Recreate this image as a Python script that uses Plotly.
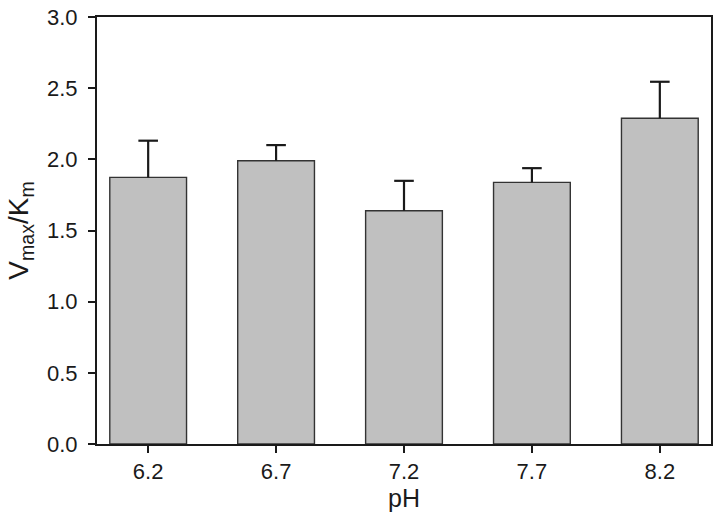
import plotly.graph_objects as go

ph_labels = ["6.2", "6.7", "7.2", "7.7", "8.2"]
vmax_km = [1.873, 1.99, 1.639, 1.838, 2.289]
err_plus = [0.258, 0.11, 0.21, 0.10, 0.256]

cap_tops = [v + e for v, e in zip(vmax_km, err_plus)]

fig = go.Figure()
fig.add_trace(go.Bar(
    x=ph_labels, y=vmax_km, width=0.6,
    marker=dict(color="#c0c0c0", line=dict(color="#333333", width=1.4)),
    error_y=dict(type="data", array=err_plus, symmetric=False,
                 arrayminus=[0] * len(err_plus),
                 color="#1a1a1a", thickness=2.2, width=0),
))
fig.add_trace(go.Scatter(
    x=ph_labels, y=cap_tops, mode="markers", hoverinfo="skip",
    marker=dict(symbol="line-ew", size=14, color="#1a1a1a",
                line=dict(color="#1a1a1a", width=2.2)),
))

font_family = "Liberation Sans, Arial, sans-serif"
fig.update_layout(
    width=718, height=525,
    margin=dict(l=97, r=5, t=13, b=81),
    plot_bgcolor="white", paper_bgcolor="white",
    showlegend=False,
    font=dict(family=font_family, size=22, color="#1a1a1a"),
    xaxis=dict(
        type="category", range=[-0.4, 4.4],
        showline=True, linecolor="#1a1a1a", linewidth=2, mirror=True,
        ticks="outside", ticklen=7, tickwidth=2, tickcolor="#1a1a1a",
        showgrid=False, zeroline=False,
        tickfont=dict(size=22),
        title=dict(text="pH", font=dict(size=25), standoff=4),
    ),
    yaxis=dict(
        range=[0, 3], tickvals=[0, 0.5, 1, 1.5, 2, 2.5, 3],
        ticktext=["0.0", "0.5", "1.0", "1.5", "2.0", "2.5", "3.0"],
        showline=True, linecolor="#1a1a1a", linewidth=2, mirror=True,
        ticks="outside", ticklen=7, tickwidth=2, tickcolor="#1a1a1a",
        showgrid=False, zeroline=False,
        tickfont=dict(size=22), ticklabelstandoff=6,
        title=dict(text="V<sub>max</sub>/K<sub>m</sub>", font=dict(size=28), standoff=10),
    ),
)

fig.write_html(
    "out.html",
    config={"displayModeBar": False},
    post_script="document.body.style.margin='0';document.body.style.overflow='hidden';",
)
